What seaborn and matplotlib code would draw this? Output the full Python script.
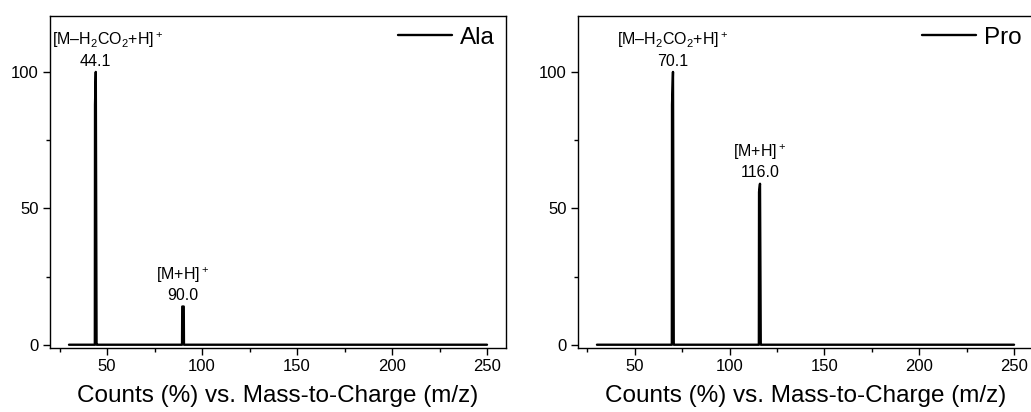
import numpy as np
import pandas as pd
import matplotlib
matplotlib.use("Agg")
import matplotlib.pyplot as plt
import seaborn as sns
from matplotlib.ticker import MultipleLocator

# Ala spectrum (profile)
ala_mz = [30.0, 43.6, 43.7, 44.1, 44.5, 44.6, 89.5, 89.6, 90.4, 90.5, 250.0]
ala_counts = [0.0, 0.0, 88.0, 100.0, 0.0, 0.0, 0.0, 14.0, 14.0, 0.0, 0.0]
# Pro spectrum
pro_mz = [30.0, 69.5, 69.6, 70.1, 70.5, 70.6, 115.4, 115.5, 116.0, 116.4, 116.5, 250.0]
pro_counts = [0.0, 0.0, 88.0, 100.0, 0.0, 0.0, 0.0, 56.0, 59.0, 0.0, 0.0, 0.0]

# peak annotations: (m/z, height, ion label, value label)
ala_peaks = [(44.1, 100.0, "[M–H$_2$CO$_2$+H]$^+$", "44.1"), (90.0, 14.0, "[M+H]$^+$", "90.0")]
pro_peaks = [(70.1, 100.0, "[M–H$_2$CO$_2$+H]$^+$", "70.1"), (116.0, 59.0, "[M+H]$^+$", "116.0")]

sns.set_theme(style="ticks")
plt.rcParams["font.family"] = ["Liberation Sans", "DejaVu Sans"]
plt.rcParams["mathtext.fontset"] = "custom"
plt.rcParams["mathtext.rm"] = "Liberation Sans"
plt.rcParams["mathtext.it"] = "Liberation Sans"
plt.rcParams["text.color"] = "black"
plt.rcParams["axes.labelcolor"] = "black"

fig = plt.figure(figsize=(10.31, 4.12), dpi=100)
W, H = 1031, 412
ax1 = fig.add_axes([50 / W, 1 - 348 / H, 456 / W, 332 / H])
ax2 = fig.add_axes([578 / W, 1 - 348 / H, 455 / W, 332 / H])


def draw(ax, mz, counts, name, peaks, shift_first=False):
    df = pd.DataFrame({"mz": mz, "counts": counts})
    sns.lineplot(data=df, x="mz", y="counts", ax=ax, color="black", lw=1.7,
                 estimator=None, sort=False, label=name)
    ax.set_xlim(20, 260)
    ax.set_ylim(-1.2, 120.5)
    ax.xaxis.set_major_locator(MultipleLocator(50))
    ax.xaxis.set_minor_locator(MultipleLocator(25))
    ax.yaxis.set_major_locator(MultipleLocator(50))
    ax.yaxis.set_minor_locator(MultipleLocator(25))
    ax.tick_params(which="both", direction="out", length=5, width=1, colors="black",
                   labelsize=12, pad=3)
    ax.tick_params(which="minor", length=3)
    for s in ax.spines.values():
        s.set_visible(True)
        s.set_linewidth(1.0)
        s.set_color("black")
    ax.set_xlabel("Counts (%) vs. Mass-to-Charge (m/z)", fontsize=17.5, labelpad=8,
                  color="black")
    ax.set_ylabel("")
    for i, (x, h, ion, val) in enumerate(peaks):
        ax.text(x, h + 1.2, val, ha="center", va="bottom", fontsize=11.5, color="black")
        if i == 0 and shift_first:
            ax.text(21, h + 8.0, ion, ha="left", va="bottom", fontsize=11.5, color="black")
        else:
            ax.text(x, h + 8.0, ion, ha="center", va="bottom", fontsize=11.5, color="black")
    leg = ax.legend(loc="upper right", frameon=False, fontsize=17.5, handlelength=2.2,
                    handletextpad=0.35, borderaxespad=0.05)
    for t in leg.get_texts():
        t.set_color("black")


draw(ax1, ala_mz, ala_counts, "Ala", ala_peaks, shift_first=True)
draw(ax2, pro_mz, pro_counts, "Pro", pro_peaks)

fig.savefig("out.png", dpi=100)
